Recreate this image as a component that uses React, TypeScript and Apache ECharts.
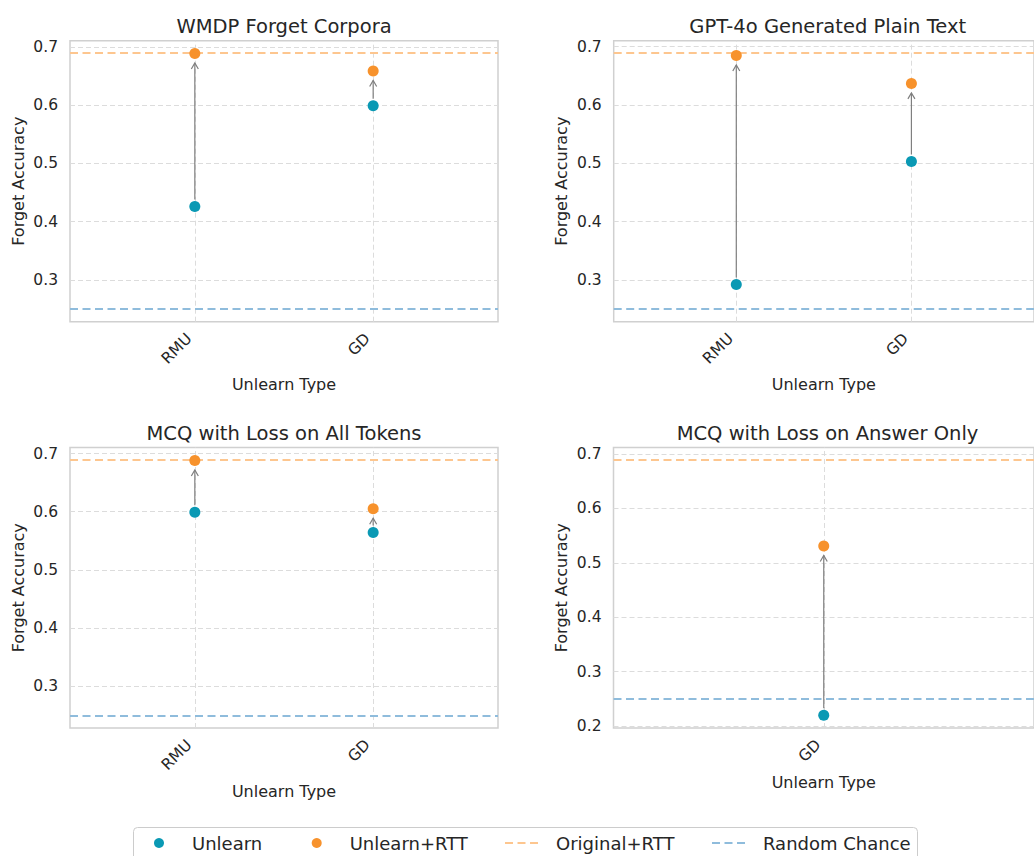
import React, { useEffect, useRef } from 'react';
import * as echarts from 'echarts';

// ---------------- data ----------------
const panelTitles = [
  'WMDP Forget Corpora',
  'GPT-4o Generated Plain Text',
  'MCQ with Loss on All Tokens',
  'MCQ with Loss on Answer Only',
];
const panelCategories = [
  ['RMU', 'GD'],
  ['RMU', 'GD'],
  ['RMU', 'GD'],
  ['GD'],
];
const unlearnValues = [
  [0.426, 0.599],
  [0.292, 0.503],
  [0.599, 0.564],
  [0.22],
];
const rttValues = [
  [0.689, 0.659],
  [0.685, 0.637],
  [0.688, 0.605],
  [0.531],
];
const originalRttValue = 0.6884;
const randomChanceValue = 0.25;
const yTickValues = [
  [0.3, 0.4, 0.5, 0.6, 0.7],
  [0.3, 0.4, 0.5, 0.6, 0.7],
  [0.3, 0.4, 0.5, 0.6, 0.7],
  [0.2, 0.3, 0.4, 0.5, 0.6, 0.7],
];
const legendNames = ['Unlearn', 'Unlearn+RTT', 'Original+RTT', 'Random Chance'];
const xAxisTitle = 'Unlearn Type';
const yAxisTitle = 'Forget Accuracy';

// ---------------- styles / layout ----------------
const FONT = 'DejaVu Sans';
const C = {
  unlearn: '#0a99b4',
  rtt: '#f7922c',
  original: '#fdc68f',
  random: '#8fbcdc',
  text: '#262626',
  grid: '#dcdcdc',
  frame: '#d0d0d0',
  arrow: '#7f7f7f',
};
const GRIDS = [
  { left: 70, top: 40.7, width: 428, height: 281, titleTop: 16, xNameGap: 55 },
  { left: 613.7, top: 40.7, width: 428, height: 281, titleTop: 16, xNameGap: 55 },
  { left: 70, top: 447.5, width: 428, height: 280.5, titleTop: 423.5, xNameGap: 55 },
  { left: 613.5, top: 447.5, width: 428, height: 280.5, titleTop: 423.5, xNameGap: 46 },
];
const X_PAD = 0.7;
const LEGEND_LEFTS = [154, 311.7, 504, 711];
const LEGEND_TOP = 834;
const DASH = [8, 4.5];

function yRange(i: number) {
  const vals = [...unlearnValues[i], ...rttValues[i], originalRttValue, randomChanceValue];
  const lo = Math.min(...vals);
  const hi = Math.max(...vals);
  const pad = (hi - lo) * 0.05;
  return [lo - pad, hi + pad];
}

function buildOption() {
  const grid: any[] = [];
  const xAxis: any[] = [];
  const yAxis: any[] = [];
  const series: any[] = [];
  const title: any[] = [];

  panelTitles.forEach((t, i) => {
    const g = GRIDS[i];
    const cats = panelCategories[i];
    const [yMin, yMax] = yRange(i);
    grid.push({
      left: g.left,
      top: g.top,
      width: g.width,
      height: g.height,
      show: true,
      borderColor: C.frame,
      borderWidth: 1.5,
      backgroundColor: 'transparent',
    });
    title.push({
      text: t,
      left: g.left + g.width / 2,
      top: g.titleTop,
      textAlign: 'center',
      padding: 0,
      textStyle: { fontFamily: FONT, fontSize: 19.5, fontWeight: 'normal', color: C.text },
    });
    xAxis.push({
      type: 'value',
      gridIndex: i,
      min: -X_PAD,
      max: cats.length - 1 + X_PAD,
      splitLine: { show: false },
      axisLine: { show: false },
      axisTick: { show: false },
      axisLabel: {
        customValues: cats.map((_, j) => j),
        formatter: (v: number) => cats[Math.round(v)] ?? '',
        rotate: 45,
        align: 'right',
        verticalAlign: 'bottom',
        margin: 20,
        fontSize: 15.5,
        fontFamily: FONT,
        color: C.text,
      },
      name: xAxisTitle,
      nameLocation: 'middle',
      nameGap: g.xNameGap,
      nameTextStyle: { fontSize: 16, fontFamily: FONT, color: C.text },
    });
    yAxis.push({
      type: 'value',
      gridIndex: i,
      min: yMin,
      max: yMax,
      splitLine: { show: false },
      axisLine: { show: false },
      axisTick: { show: false },
      axisLabel: {
        customValues: yTickValues[i],
        formatter: (v: number) => v.toFixed(1),
        margin: 12,
        fontSize: 15.5,
        fontFamily: FONT,
        color: C.text,
      },
      name: yAxisTitle,
      nameLocation: 'middle',
      nameGap: 44,
      nameTextStyle: { fontSize: 16, fontFamily: FONT, color: C.text },
    });

    // grid lines
    series.push({
      type: 'line',
      name: 'grid' + i,
      xAxisIndex: i,
      yAxisIndex: i,
      data: [],
      z: 1,
      silent: true,
      markLine: {
        silent: true,
        z: 1,
        symbol: ['none', 'none'],
        label: { show: false },
        lineStyle: { color: C.grid, type: [5, 3], width: 1 },
        data: [
          ...yTickValues[i].map((v) => ({ yAxis: v })),
          ...cats.map((_, j) => ({ xAxis: j })),
        ],
      },
    });
    // reference lines
    series.push({
      type: 'line',
      name: 'Original+RTT',
      xAxisIndex: i,
      yAxisIndex: i,
      data: [],
      symbol: 'none',
      z: 2,
      itemStyle: { color: C.original },
      lineStyle: { color: C.original, type: DASH, width: 2 },
      markLine: {
        silent: true,
        z: 2,
        symbol: ['none', 'none'],
        label: { show: false },
        lineStyle: { color: C.original, type: DASH, width: 2 },
        data: [{ yAxis: originalRttValue }],
      },
    });
    series.push({
      type: 'line',
      name: 'Random Chance',
      xAxisIndex: i,
      yAxisIndex: i,
      data: [],
      symbol: 'none',
      z: 2,
      itemStyle: { color: C.random },
      lineStyle: { color: C.random, type: DASH, width: 2 },
      markLine: {
        silent: true,
        z: 2,
        symbol: ['none', 'none'],
        label: { show: false },
        lineStyle: { color: C.random, type: DASH, width: 2 },
        data: [{ yAxis: randomChanceValue }],
      },
    });
    // arrows
    series.push({
      type: 'custom',
      name: 'arrow' + i,
      xAxisIndex: i,
      yAxisIndex: i,
      z: 3,
      silent: true,
      data: cats.map((_, j) => [j, unlearnValues[i][j], rttValues[i][j]]),
      renderItem: (params: any, api: any) => {
        const x = api.value(0);
        const a = api.coord([x, api.value(1)]);
        const b = api.coord([x, api.value(2)]);
        const y0 = a[1] - 7;
        const y1 = b[1] + 9.5;
        const hx = 3.5;
        const hy = 6;
        return {
          type: 'group',
          children: [
            {
              type: 'line',
              shape: { x1: a[0], y1: y0, x2: a[0], y2: y1 },
              style: { stroke: C.arrow, lineWidth: 1.2 },
            },
            {
              type: 'polyline',
              shape: { points: [[a[0] - hx, y1 + hy], [a[0], y1], [a[0] + hx, y1 + hy]] },
              style: { stroke: C.arrow, lineWidth: 1.2, fill: 'none' },
            },
          ],
        };
      },
    });
    series.push({
      type: 'scatter',
      name: 'Unlearn',
      xAxisIndex: i,
      yAxisIndex: i,
      z: 4,
      symbolSize: 11,
      itemStyle: { color: C.unlearn, opacity: 1 },
      data: cats.map((_, j) => [j, unlearnValues[i][j]]),
    });
    series.push({
      type: 'scatter',
      name: 'Unlearn+RTT',
      xAxisIndex: i,
      yAxisIndex: i,
      z: 4,
      symbolSize: 11,
      itemStyle: { color: C.rtt, opacity: 1 },
      data: cats.map((_, j) => [j, rttValues[i][j]]),
    });
  });

  const legend = legendNames.map((name, k) => {
    const isLine = k >= 2;
    return {
      data: [name],
      left: LEGEND_LEFTS[k],
      top: LEGEND_TOP,
      orient: 'horizontal',
      itemWidth: 36,
      itemHeight: 10,
      itemGap: 0,
      padding: 0,
      selectedMode: false,
      ...(isLine ? { itemStyle: { opacity: 0 } } : {}),
      textStyle: { fontSize: 18, fontFamily: FONT, color: C.text, padding: [0, 0, 0, 10] },
    };
  });

  return {
    animation: false,
    backgroundColor: '#ffffff',
    textStyle: { fontFamily: FONT },
    title,
    grid,
    xAxis,
    yAxis,
    series,
    legend,
    graphic: [
      {
        type: 'rect',
        z: -1,
        shape: { x: 133.5, y: 827.5, width: 784, height: 60, r: 4 },
        style: { fill: '#ffffff', stroke: '#cccccc', lineWidth: 1 },
      },
    ],
  };
}

export default function App() {
  const ref = useRef<HTMLDivElement>(null);
  useEffect(() => {
    if (!ref.current) return;
    const chart = echarts.init(ref.current, undefined, { renderer: 'svg' });
    chart.setOption(buildOption() as any);
    return () => chart.dispose();
  }, []);
  return (
    <div
      ref={ref}
      style={{ position: 'absolute', left: 0, top: 0, width: 1034, height: 856, overflow: 'hidden' }}
    />
  );
}
